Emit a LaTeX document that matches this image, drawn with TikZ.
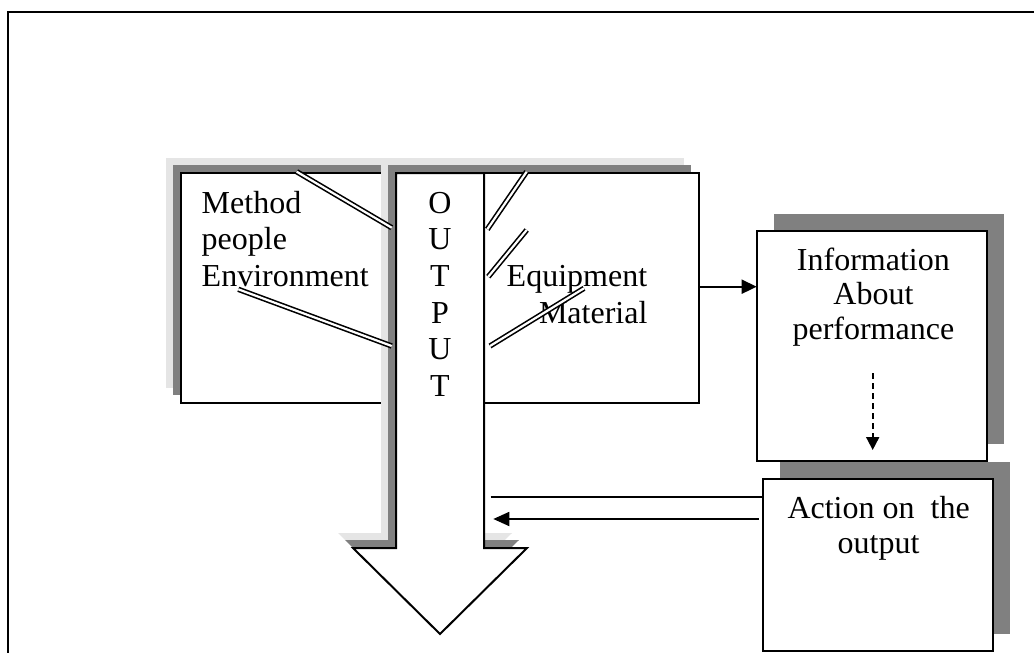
\documentclass[tikz,border=0pt]{standalone}
\usepackage{fontspec}
\setmainfont{Liberation Serif}
\usetikzlibrary{arrows.meta,shadows}

\definecolor{shadelight}{RGB}{229,229,229}
\definecolor{shadedark}{RGB}{128,128,128}

\begin{document}
\begin{tikzpicture}[x=1pt,y=-1pt,
  every node/.style={inner sep=0pt, outer sep=0pt},
  box/.style={draw=black, fill=white, line width=2pt},
  backshade/.style={
    general shadow={shadow xshift=-15pt, shadow yshift=15pt, fill=shadelight},
    general shadow={shadow xshift=-8pt, shadow yshift=8pt, fill=shadedark}},
  sideshade/.style={general shadow={shadow xshift=17pt, shadow yshift=17pt, fill=shadedark}},
  txt/.style={font=\fontsize{32}{36}\selectfont, text=black},
  dbl/.style={draw=black, line width=1.6pt, double=white, double distance=2.2pt},
  link/.style={draw=black, line width=1.8pt},
  tipbig/.style={-{Triangle[length=15pt,width=14pt]}},
  tipsmall/.style={-{Triangle[length=13pt,width=13pt]}}
]
\useasboundingbox (0,0) rectangle (1034,653);
\clip (0,0) rectangle (1034,653);
\fill[white] (0,0) rectangle (1034,653);

% outer frame
\draw[line width=2.5pt] (8,12) rectangle (1100,700);

% input boxes on either side of the output arrow
\node[box, backshade, minimum width=259pt, minimum height=230pt] (left) at (310.5,288) {};
\node[box, backshade, minimum width=259pt, minimum height=230pt] (equip) at (569.5,288) {};

% the big OUTPUT block arrow
\draw[box, backshade] (396,173) -- (484,173) -- (484,548) -- (527,548)
  -- (440,634) -- (353,548) -- (396,548) -- cycle;
\coordinate (outarrow) at (440,173);

% information and action boxes
\node[box, sideshade, minimum width=230.6pt, minimum height=230pt] (info) at (872,345.7) {};
\node[box, sideshade, minimum width=230.6pt, minimum height=171.7pt] (action) at (878,564.85) {};

% texts
\node[txt, anchor=base west] (m1) at (201.7,213) {Method};
\node[txt, anchor=base west] (m2) at (201.7,249.7) {people};
\node[txt, anchor=base west] (m3) at (201.7,286.4) {Environment};

\foreach \ch [count=\i] in {O,U,T,P,U,T}
  \node[txt, anchor=base] (o\i) at (440,{213+(\i-1)*36.74}) {\ch};

\node[txt, anchor=base west] (e1) at (506.7,286) {Equipment};
\node[txt, anchor=base west] (e2) at (539,323) {Material};

\node[txt, anchor=base] (i1) at (873.4,270) {Information};
\node[txt, anchor=base] (i2) at (873.4,304.5) {About};
\node[txt, anchor=base] (i3) at (873.4,339) {performance};

\node[txt, anchor=base] (a1) at (878.6,518) {Action on\ \ the};
\node[txt, anchor=base] (a2) at (878.6,553) {output};

% double strokes feeding into the output
\draw[dbl] (296.7,171.7) -- (391.7,227.7);
\draw[dbl] (238.3,289.3) -- (391.7,346);
\draw[dbl] (487.3,229.3) -- (526.7,171.7);
\draw[dbl] (488.3,276.7) -- (526.7,230);
\draw[dbl] (490,346) -- (584,288.3);

% connectors
\coordinate (ea) at (699,286.7);
\draw[link, tipbig] (equip.east |- ea) -- (info.west |- ea);

\coordinate (d1) at (872.7,373);
\coordinate (d2) at (872.7,450);
\draw[link, dash pattern=on 6pt off 4pt, tipsmall] (d1) -- (d2);

\coordinate (f1) at (490.7,496.7);
\draw[link] (f1) -- (action.west |- f1);

\coordinate (f2) at (759.3,519);
\coordinate (f3) at (493.3,519);
\draw[link, {Triangle[length=16pt,width=14pt]}-] (f3) -- (f2);
\end{tikzpicture}
\end{document}
